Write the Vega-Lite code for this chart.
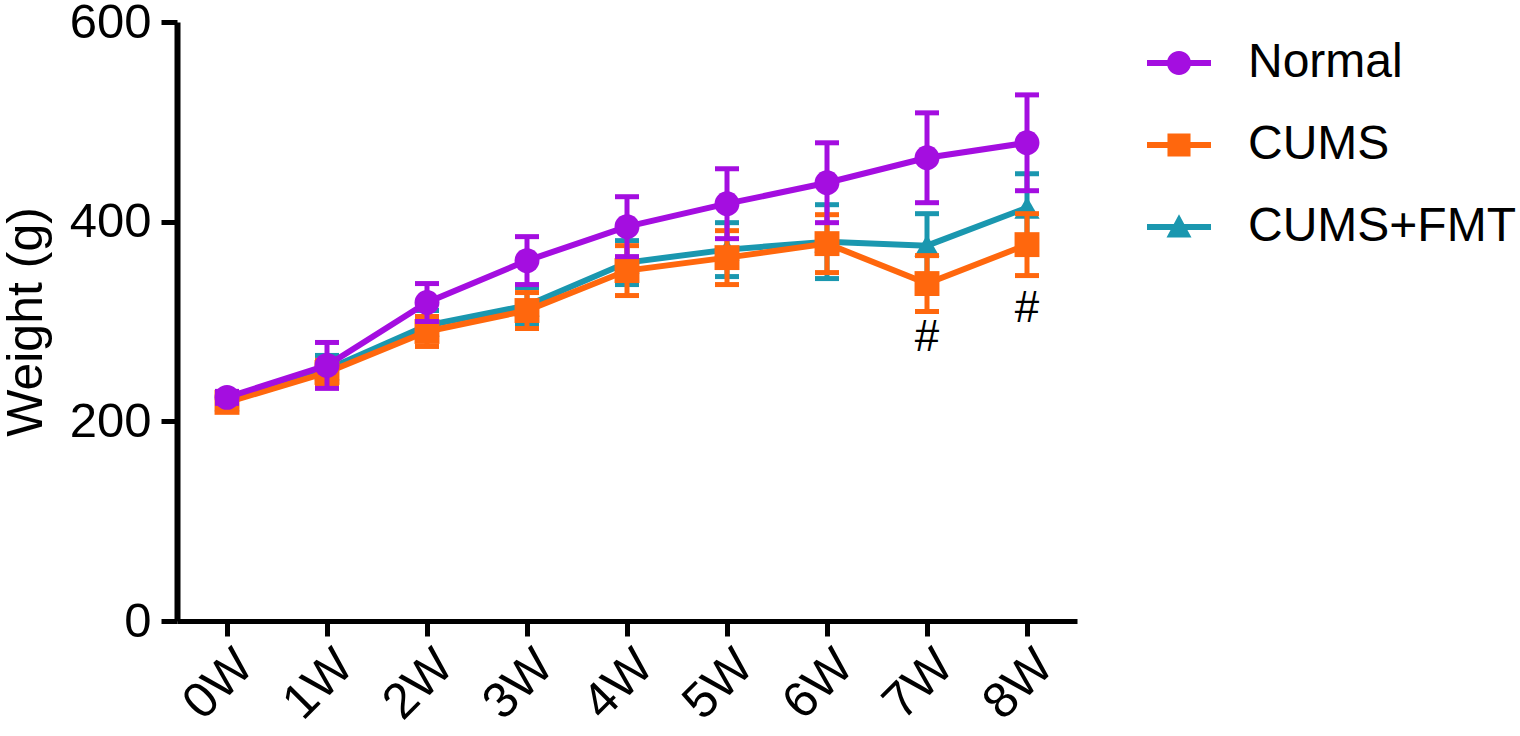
{
  "$schema": "https://vega.github.io/schema/vega-lite/v6.json",
  "autosize": "none",
  "width": 900,
  "height": 599,
  "padding": {"left": 177, "top": 22, "right": 443, "bottom": 115},
  "background": "white",
  "datasets": {
    "weights": [
      {"week": "0W", "group": "Normal", "mean": 224, "sd": 6},
      {"week": "1W", "group": "Normal", "mean": 256, "sd": 23},
      {"week": "2W", "group": "Normal", "mean": 319, "sd": 19},
      {"week": "3W", "group": "Normal", "mean": 361, "sd": 24},
      {"week": "4W", "group": "Normal", "mean": 395, "sd": 30},
      {"week": "5W", "group": "Normal", "mean": 418, "sd": 35},
      {"week": "6W", "group": "Normal", "mean": 439, "sd": 40},
      {"week": "7W", "group": "Normal", "mean": 464, "sd": 45},
      {"week": "8W", "group": "Normal", "mean": 479, "sd": 48},
      {"week": "0W", "group": "CUMS", "mean": 219, "sd": 5},
      {"week": "1W", "group": "CUMS", "mean": 249, "sd": 12},
      {"week": "2W", "group": "CUMS", "mean": 290, "sd": 15},
      {"week": "3W", "group": "CUMS", "mean": 311, "sd": 18},
      {"week": "4W", "group": "CUMS", "mean": 351, "sd": 25},
      {"week": "5W", "group": "CUMS", "mean": 364, "sd": 27},
      {"week": "6W", "group": "CUMS", "mean": 378, "sd": 29},
      {"week": "7W", "group": "CUMS", "mean": 338, "sd": 28},
      {"week": "8W", "group": "CUMS", "mean": 377, "sd": 31},
      {"week": "0W", "group": "CUMS+FMT", "mean": 221, "sd": 5},
      {"week": "1W", "group": "CUMS+FMT", "mean": 252, "sd": 14},
      {"week": "2W", "group": "CUMS+FMT", "mean": 296, "sd": 15},
      {"week": "3W", "group": "CUMS+FMT", "mean": 316, "sd": 18},
      {"week": "4W", "group": "CUMS+FMT", "mean": 359, "sd": 22},
      {"week": "5W", "group": "CUMS+FMT", "mean": 372, "sd": 27},
      {"week": "6W", "group": "CUMS+FMT", "mean": 380, "sd": 37},
      {"week": "7W", "group": "CUMS+FMT", "mean": 376, "sd": 32},
      {"week": "8W", "group": "CUMS+FMT", "mean": 414, "sd": 34}
    ],
    "marks": [
      {"week": "7W", "mean": 283, "label": "#"},
      {"week": "8W", "mean": 313, "label": "#"}
    ]
  },
  "data": {"name": "weights"},
  "encoding": {
    "x": {
      "field": "week",
      "type": "ordinal",
      "sort": null,
      "scale": {"type": "point", "padding": 0.5},
      "axis": {
        "title": null,
        "labelAngle": -45,
        "labelAlign": "right",
        "labelBaseline": "top",
        "labelPadding": 4,
        "labelFontSize": 50,
        "tickSize": 15,
        "tickWidth": 5,
        "domainWidth": 5
      }
    },
    "y": {
      "field": "mean",
      "type": "quantitative",
      "scale": {"domain": [0, 600], "nice": false, "zero": true},
      "axis": {
        "title": "Weight (g)",
        "values": [0, 200, 400, 600],
        "labelFontSize": 49,
        "labelPadding": 10,
        "tickSize": 16,
        "tickWidth": 5,
        "domainWidth": 6,
        "titleFontSize": 50,
        "titleFontWeight": "normal",
        "titlePadding": 18,
        "grid": false
      }
    }
  },
  "layer": [
    {
      "transform": [{"filter": "datum.group === 'CUMS+FMT'"}],
      "layer": [
        {"mark": {"type": "errorbar", "ticks": true, "size": 24, "thickness": 5, "opacity": 1, "color": "#1a97af"}, "encoding": {"yError": {"field": "sd"}}},
        {"mark": {"type": "line", "strokeWidth": 6, "color": "#1a97af"}},
        {"mark": {"type": "point", "shape": "triangle-up", "filled": true, "opacity": 1, "size": 640, "color": "#1a97af"}}
      ]
    },
    {
      "transform": [{"filter": "datum.group === 'CUMS'"}],
      "layer": [
        {"mark": {"type": "errorbar", "ticks": true, "size": 24, "thickness": 5, "opacity": 1, "color": "#ff670d"}, "encoding": {"yError": {"field": "sd"}}},
        {"mark": {"type": "line", "strokeWidth": 6, "color": "#ff670d"}},
        {"mark": {"type": "point", "shape": "square", "filled": true, "opacity": 1, "size": 620, "color": "#ff670d"}}
      ]
    },
    {
      "transform": [{"filter": "datum.group === 'Normal'"}],
      "layer": [
        {"mark": {"type": "errorbar", "ticks": true, "size": 24, "thickness": 5, "opacity": 1, "color": "#a40ee0"}, "encoding": {"yError": {"field": "sd"}}},
        {"mark": {"type": "line", "strokeWidth": 6, "color": "#a40ee0"}},
        {"mark": {"type": "point", "shape": "circle", "filled": true, "opacity": 1, "size": 620, "color": "#a40ee0"}}
      ]
    },
    {
      "data": {"name": "marks"},
      "mark": {"type": "text", "fontSize": 44, "font": "Liberation Sans", "baseline": "middle", "align": "center", "color": "black"},
      "encoding": {"text": {"field": "label"}}
    },
    {
      "transform": [{"filter": "datum.mean < 0"}],
      "mark": {"type": "point", "filled": true, "opacity": 1, "size": 4096},
      "encoding": {
        "color": {
          "field": "group",
          "type": "nominal",
          "scale": {"domain": ["Normal", "CUMS", "CUMS+FMT"], "range": ["#a40ee0", "#ff670d", "#1a97af"]},
          "legend": {
            "title": null,
            "orient": "none",
            "legendX": 970,
            "legendY": 9,
            "labelFontSize": 48,
            "labelOffset": 37,
            "rowPadding": 26,
            "symbolSize": 4096,
            "symbolStrokeWidth": 0,
            "symbolOpacity": 1,
            "labelLimit": 400
          }
        },
        "shape": {
          "field": "group",
          "type": "nominal",
          "scale": {
            "domain": ["Normal", "CUMS", "CUMS+FMT"],
            "range": [
              "M-1,-0.09H1V0.09H-1Z M0,-0.375A0.375,0.375,0,1,1,0,0.375A0.375,0.375,0,1,1,0,-0.375Z",
              "M-1,-0.09H1V0.09H-1Z M-0.36,-0.36H0.36V0.36H-0.36Z",
              "M-1,-0.09H1V0.09H-1Z M0,-0.4L0.39,0.33H-0.39Z"
            ]
          }
        }
      }
    }
  ],
  "config": {
    "view": {"stroke": null},
    "font": "Liberation Sans",
    "axis": {"labelColor": "black", "domainColor": "black", "tickColor": "black", "titleColor": "black", "labelFont": "Liberation Sans", "titleFont": "Liberation Sans"},
    "legend": {"labelColor": "black", "labelFont": "Liberation Sans"}
  }
}
